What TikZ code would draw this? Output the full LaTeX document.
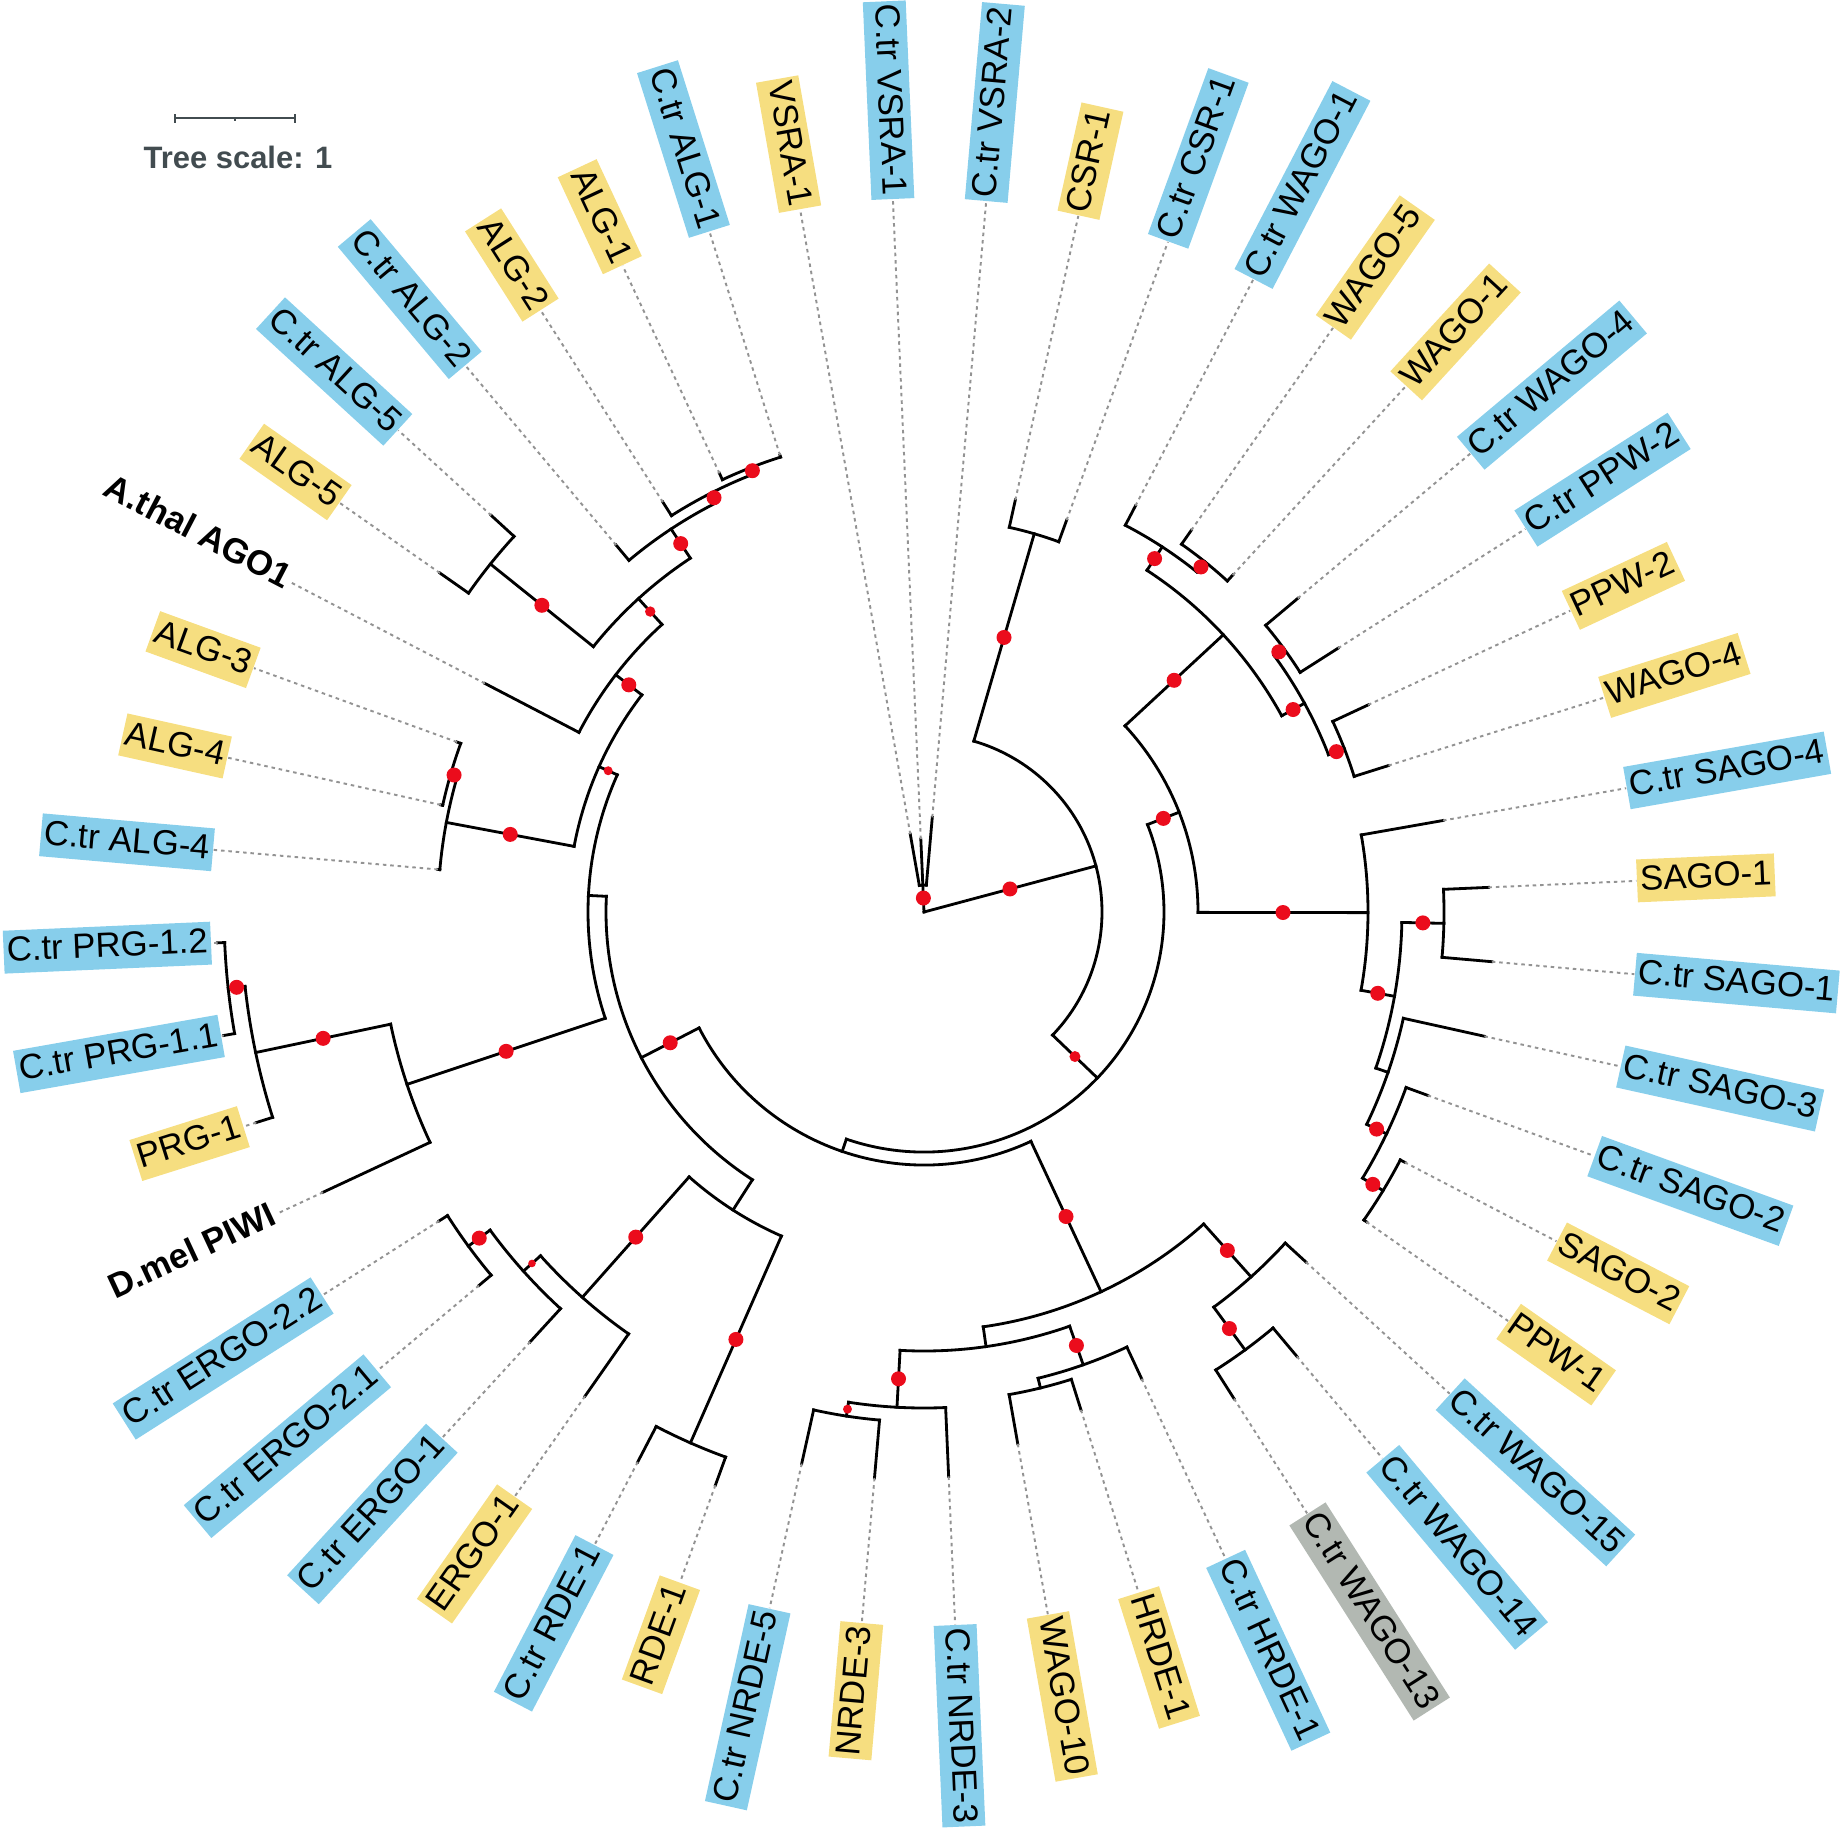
\documentclass[tikz,border=0pt]{standalone}
\usepackage{fontspec}
\setmainfont{Liberation Sans}
\usepackage{tikz}

\definecolor{ctrblue}{RGB}{135,206,235}
\definecolor{celyellow}{RGB}{246,222,128}
\definecolor{oddgrey}{RGB}{178,184,178}
\definecolor{dotred}{RGB}{235,12,28}
\definecolor{scalegrey}{RGB}{66,76,80}

\begin{document}
\begin{tikzpicture}[x=0.01cm,y=0.01cm,
    branch/.style={line width=0.8pt,line cap=rect},
    leafline/.style={gray!85,line width=0.55pt,dash pattern=on 1pt off 1.1pt},
    lab/.style={font=\fontsize{9.9}{11}\selectfont,inner xsep=0.9pt,inner ysep=1.15pt,text height=7.6pt,text depth=2.3pt},
    ctrbox/.style={lab,fill=ctrblue},
    celbox/.style={lab,fill=celyellow},
    grybox/.style={lab,fill=oddgrey},
    outbox/.style={lab,font=\fontsize{9.9}{11}\selectfont\bfseries},
    bs/.style={fill=dotred}]
   \useasboundingbox (-924,-920) rectangle (916,912);

   % tree scale
   \coordinate (sl) at (-749,794);
   \coordinate (sr) at (-629,794);
   \draw[scalegrey,line width=0.7pt] (sl) -- (sr) (sl) +(0,-4.5) -- +(0,4.5) (sr) +(0,-4.5) -- +(0,4.5) (-689,794) -- (-689,791);
   \node[scalegrey,font=\fontsize{8.8}{10}\selectfont\bfseries] (scaletxt) at (-686,755) {Tree scale: 1};

   % internal branches (angle/from/to)
   \foreach \a/\p/\r in {92.5/0/27, 15/0/178, 73.75/178/394, -43.75/178/240, 21.367/240/274,
        42.81/274/408, 56.875/408/436, 51.25/436/449, 28.75/408/434, 36.25/434/446, 21.25/434/451,
        -0.078/274/444, -10.156/444/478, -1.25/478/520, -19.06/478/491, -25.625/491/513, -31.25/513/537,
        -108.87/240/253, -65/253/419, -48.125/419/490, -53.75/490/543, -81.875/419/439, -70.625/439/480,
        -76.25/480/490, -93.125/439/496, -98.75/496/510, -152.74/253/318, -122.656/318/354,
        -113.75/354/580, -131.5625/354/515, -138.125/515/538, -143.75/538/565, 177.17/318/336,
        -161.5625/336/545, -168.125/545/683, -173.75/683/700, 155.9/336/356, 169.375/356/486,
        163.75/486/493, 142.42/356/389, 132.34/389/424, 141.25/424/556, 123.44/424/459,
        116.875/459/470, 111.25/470/477}
     \draw[branch] (\a:\p) -- (\a:\r);

   % arcs (start/end/radius)
   \foreach \s/\e/\r in {85/100/27, -43.75/73.75/178, 70/77.5/394, -108.87/21.367/240, -0.078/42.81/274,
        28.75/56.875/408, 51.25/62.5/436, 47.5/55/449, 21.25/36.25/434, 32.5/40/446, 17.5/25/451,
        -10.156/10/444, -19.06/-1.25/478, -5/2.5/520, -25.625/-12.5/491, -31.25/-20/513, -35/-27.5/537,
        -152.74/-65/253, -81.875/-48.125/419, -53.75/-42.5/490, -57.5/-50/543, -93.125/-70.625/439,
        -76.25/-65/480, -80/-72.5/490, -98.75/-87.5/496, -102.5/-95/510, 177.17/237.344/318,
        228.4375/246.25/354, -117.5/-110/580, -138.125/-125/515, -143.75/-132.5/538, -147.5/-140/565,
        155.9/198.4375/336, 191.875/205/545, 186.25/197.5/683, 182.5/190/700, 142.42/169.375/356,
        163.75/175/486, 160/167.5/493, 132.34/152.5/389, 123.44/141.25/424, 137.5/145/556,
        116.875/130/459, 111.25/122.5/470, 107.5/115/477}
     \draw[branch] (\s:\r) arc[start angle=\s,end angle=\e,radius=\r];

   % leaves, right half
   \foreach \a/\p/\t/\s/\txt [count=\k] in {85/27/95/ctrbox/C.tr VSRA-2, 77.5/394/422/celbox/CSR-1,
        70/394/417/ctrbox/C.tr CSR-1, 62.5/436/458/ctrbox/C.tr WAGO-1, 55/449/466/celbox/WAGO-5,
        47.5/449/457/celbox/WAGO-1, 40/446/488/ctrbox/C.tr WAGO-4, 32.5/446/491/ctrbox/C.tr PPW-2,
        25/451/490/celbox/PPW-2, 17.5/451/487/celbox/WAGO-4, 10/444/527/ctrbox/C.tr SAGO-4,
        2.5/520/565/celbox/SAGO-1, -5/520/570/ctrbox/C.tr SAGO-1, -12.5/491/574/ctrbox/C.tr SAGO-3,
        -20/513/536/ctrbox/C.tr SAGO-2, -27.5/537/542/celbox/SAGO-2, -35/537/540/celbox/PPW-1,
        -42.5/490/518/ctrbox/C.tr WAGO-15, -50/543/580/ctrbox/C.tr WAGO-14, -57.5/543/577/grybox/C.tr WAGO-13,
        -65/480/515/ctrbox/C.tr HRDE-1, -72.5/490/522/celbox/HRDE-1, -80/490/540/celbox/WAGO-10,
        -87.5/496/565/ctrbox/C.tr NRDE-3}
   {
     \coordinate (tr\k) at (\a:\t);
     \node[\s,rotate=\a,anchor=west] (labr\k) at (\a:713) {\txt};
     \draw[branch] (\a:\p) -- (tr\k);
     \draw[leafline] (tr\k) -- (labr\k.west);
   }

   % leaves, left half
   \foreach \a/\p/\t/\s/\txt [count=\k] in {100/27/79/celbox/VSRA-1, 92.5/27/73/ctrbox/C.tr VSRA-1,
        -95/510/568/celbox/NRDE-3, -102.5/510/565/ctrbox/C.tr NRDE-5, -110/580/610/celbox/RDE-1,
        -117.5/580/620/ctrbox/C.tr RDE-1, -125/515/591/celbox/ERGO-1, -132.5/538/583/ctrbox/C.tr ERGO-1,
        -140/565/581/ctrbox/C.tr ERGO-2.1, -147.5/565/575/ctrbox/C.tr ERGO-2.2, -155/545/663/outbox/D.mel PIWI,
        -162.5/683/700/celbox/PRG-1, -170/700/711/ctrbox/C.tr PRG-1.1, -177.5/700/707/ctrbox/C.tr PRG-1.2,
        175/486/488/ctrbox/C.tr ALG-4, 167.5/493/495/celbox/ALG-4, 160/493/497/celbox/ALG-3,
        152.5/389/495/outbox/A.thal AGO1, 145/556/591/celbox/ALG-5, 137.5/556/587/ctrbox/C.tr ALG-5,
        130/459/479/ctrbox/C.tr ALG-2, 122.5/470/486/celbox/ALG-2, 115/477/484/celbox/ALG-1,
        107.5/477/479/ctrbox/C.tr ALG-1}
   {
     \coordinate (tl\k) at (\a:\t);
     \node[\s,rotate=\a+180,anchor=east] (labl\k) at (\a:713) {\txt};
     \draw[branch] (\a:\p) -- (tl\k);
     \draw[leafline] (tl\k) -- (labl\k.east);
   }

   % bootstrap dots (angle/radius/size)
   \foreach \a/\r/\d in {92.5/14/7.5, 15/89/7.5, 73.75/286/7.5, 21.367/257/7.5, 42.81/341/7.5,
        56.875/422/7.5, 51.25/442.5/7.5, 28.75/421/7.5, 36.25/440/7.5, 21.25/442.5/7.5, -0.078/359/7.5,
        -10.156/461/7.5, -1.25/499/7.5, -25.625/502/7.5, -31.25/525/7.5, -65/336/7.5, -48.125/454.5/7.5,
        -53.75/516.5/7.5, -70.625/459.5/7.5, -93.125/467.5/7.5, -152.74/285.5/7.5, -113.75/467/7.5,
        -131.5625/434.5/7.5, -143.75/551.5/7.5, -161.5625/440.5/7.5, -168.125/614/7.5, -173.75/691.5/7.5,
        169.375/421/7.5, 163.75/489.5/7.5, 142.42/372.5/7.5, 141.25/490/7.5, 123.44/441.5/7.5,
        116.875/464.5/7.5, 111.25/473.5/7.5, -43.75/209/5.5, -98.75/503/4.5, -138.125/526.5/3.8,
        155.9/346/4.5, 132.34/406.5/5.2}
     \fill[bs] (\a:\r) circle[radius=\d];
\end{tikzpicture}
\end{document}
